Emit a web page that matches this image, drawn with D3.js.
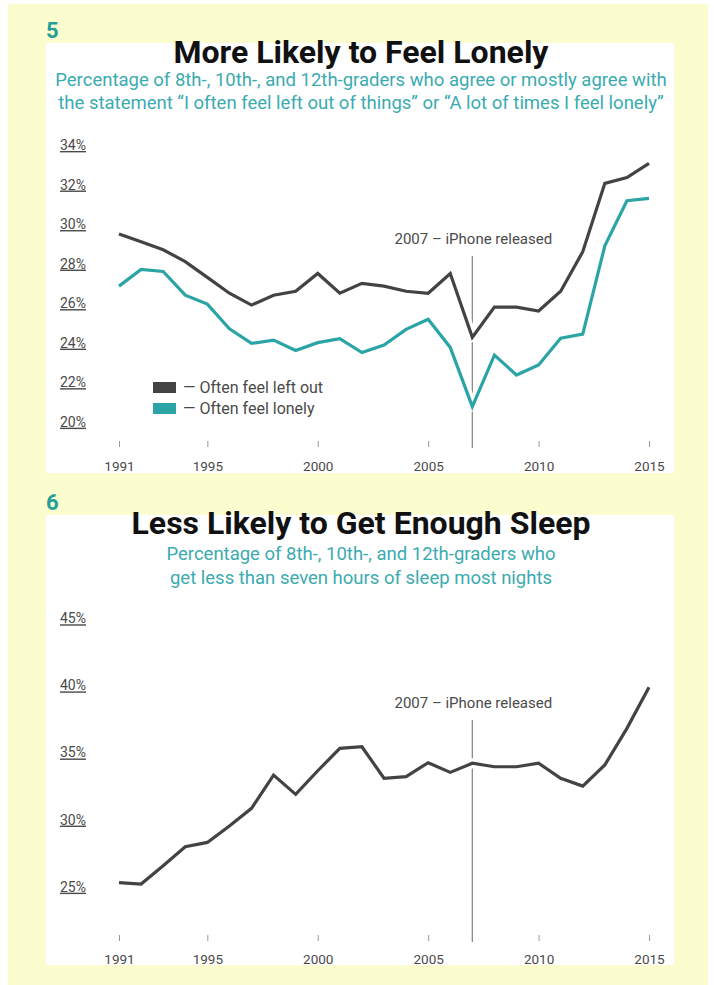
<!DOCTYPE html>
<html><head><meta charset="utf-8">
<script src="https://cdn.jsdelivr.net/npm/d3@7"></script>
<style>
html,body{margin:0;padding:0;background:#fff;}
svg{display:block;}
text{font-family:Roboto,"Noto Sans",sans-serif;}
</style></head>
<body>
<svg id="c" width="714" height="985"></svg>
<script>
// ---- data ----
const years = d3.range(1991, 2016);
const leftOut = [29.5,29.1,28.7,28.1,27.3,26.5,25.9,26.4,26.6,27.5,26.5,27.0,26.86,26.6,26.5,27.5,24.27,25.8,25.8,25.6,26.6,28.6,32.06,32.35,33.07];
const lonely  = [26.86,27.7,27.6,26.4,25.95,24.7,23.96,24.13,23.6,24.0,24.2,23.5,23.88,24.67,25.18,23.76,20.76,23.37,22.36,22.87,24.22,24.43,28.9,31.18,31.3];
const sleep   = [25.3,25.2,26.56,27.98,28.3,29.52,30.84,33.32,31.88,33.64,35.31,35.43,33.08,33.2,34.24,33.52,34.2,33.94,33.94,34.2,33.08,32.5,34.07,36.8,39.86];
const xTicks = [1991,1995,2000,2005,2010,2015];
const yTicks1 = [20,22,24,26,28,30,32,34];
const yTicks2 = [25,30,35,40,45];
const seriesNames = ["Often feel left out","Often feel lonely"];
const eventYear = 2007;
const eventLabel = "2007 – iPhone released";

const GRAY = "#434343", TEAL = "#2ba4a6", LABEL = "#4a4a4a";
const svg = d3.select("#c");

// background
svg.append("rect").attr("x",8).attr("y",4).attr("width",700).attr("height",981).attr("fill","#fbfdcf");

function panel(cfg){
  const g = svg.append("g");
  g.append("rect").attr("x",46).attr("y",cfg.top).attr("width",628).attr("height",cfg.bottom-cfg.top).attr("fill","#fff");
  g.append("text").attr("x",46).attr("y",cfg.top-5).attr("font-size",22).attr("font-weight",700)
    .attr("fill","#259d99").text(cfg.num);
  g.append("text").attr("x",361).attr("y",cfg.titleY).attr("text-anchor","middle")
    .attr("font-size",cfg.titleSize).attr("font-weight",700).attr("fill","#111").text(cfg.title);
  cfg.sub.forEach((s,i)=>{
    g.append("text").attr("x",361).attr("y",cfg.subY+i*cfg.subGap).attr("text-anchor","middle")
      .attr("font-size",cfg.subSize).attr("fill","#3aabb0").text(s);
  });

  const x = d3.scaleLinear().domain([1991,2015]).range([119,649]);
  const y = d3.scaleLinear().domain(cfg.yDomain).range(cfg.yRange);

  // y axis
  const ya = g.append("g").attr("transform","translate(60,0)")
    .call(d3.axisLeft(y).tickValues(cfg.yTicks).tickSize(0).tickFormat(d=>d+"%"));
  ya.select(".domain").remove();
  ya.selectAll("text").attr("x",0).attr("text-anchor","start").attr("font-size",14)
    .attr("fill",LABEL).style("text-decoration","underline").attr("font-family","Roboto,sans-serif");

  // x axis
  const xa = g.append("g").attr("transform",`translate(0,${cfg.tickY})`)
    .call(d3.axisBottom(x).tickValues(xTicks).tickSize(6).tickPadding(cfg.tickPad).tickFormat(d3.format("d")));
  xa.select(".domain").remove();
  xa.selectAll("line").attr("stroke","#999").attr("stroke-width",1);
  xa.selectAll("text").attr("font-size",13.5).attr("fill",LABEL).attr("font-family","Roboto,sans-serif");

  // event line
  g.append("line").attr("x1",x(eventYear)).attr("x2",x(eventYear)).attr("y1",cfg.evTop).attr("y2",cfg.tickY+7)
    .attr("stroke","#8a8a8a").attr("stroke-width",1.3);
  g.append("text").attr("x",x(eventYear)+1).attr("y",cfg.evTop-12).attr("text-anchor","middle")
    .attr("font-size",15).attr("fill",LABEL).text(eventLabel);

  const line = d3.line().x((d,i)=>x(years[i])).y(d=>y(d));
  cfg.series.forEach(s=>{
    g.append("path").datum(s.values).attr("d",line).attr("fill","none").attr("stroke","#fff")
      .attr("stroke-width",10).attr("stroke-linejoin","round");
  });
  cfg.series.forEach(s=>{
    g.append("path").datum(s.values).attr("d",line).attr("fill","none").attr("stroke",s.color)
      .attr("stroke-width",3.2).attr("stroke-linejoin","miter");
  });
  return {g,x,y};
}

const p1 = panel({top:43,bottom:473,num:"5",title:"More Likely to Feel Lonely",titleY:63,titleSize:32,
  sub:["Percentage of 8th-, 10th-, and 12th-graders who agree or mostly agree with",
       "the statement “I often feel left out of things” or “A lot of times I feel lonely”"],
  subY:86,subGap:23,subSize:18.5,
  yDomain:[20,34],yRange:[421.7,145],yTicks:yTicks1,tickY:441,tickPad:14,evTop:256,
  series:[{values:leftOut,color:GRAY},{values:lonely,color:TEAL}]});

// legend
const leg = p1.g.append("g");
[GRAY,TEAL].forEach((c,i)=>{
  leg.append("rect").attr("x",153).attr("y",382+i*21).attr("width",23).attr("height",11).attr("fill",c);
  leg.append("text").attr("x",183).attr("y",392.5+i*21).attr("font-size",16).attr("fill",LABEL)
    .text("— "+seriesNames[i]);
});

panel({top:515,bottom:965,num:"6",title:"Less Likely to Get Enough Sleep",titleY:534,titleSize:32,
  sub:["Percentage of 8th-, 10th-, and 12th-graders who",
       "get less than seven hours of sleep most nights"],
  subY:560,subGap:24,subSize:18.5,
  yDomain:[25,45],yRange:[886.7,618.3],yTicks:yTicks2,tickY:935,tickPad:13,evTop:720,
  series:[{values:sleep,color:GRAY}]});
</script>
</body></html>
